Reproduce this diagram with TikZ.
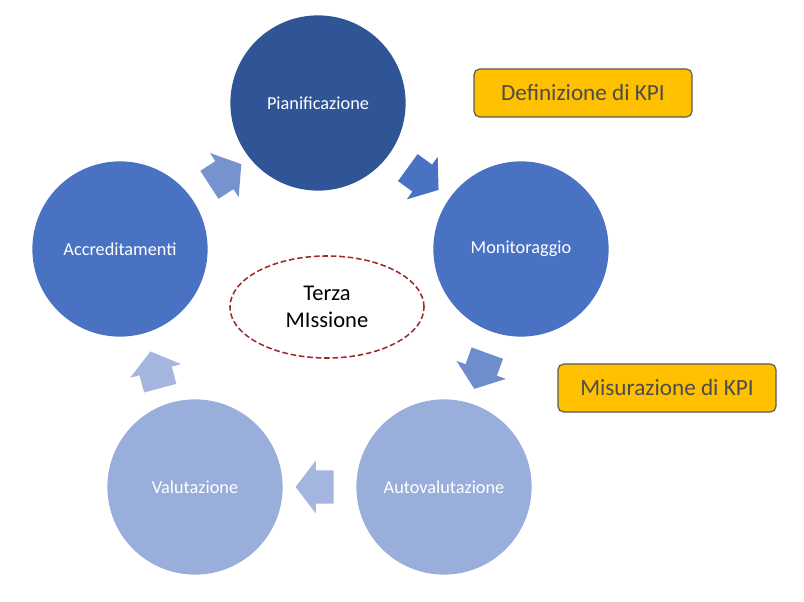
\documentclass[tikz,border=0pt]{standalone}
\usepackage{fontspec}
\setmainfont{Carlito}
\usetikzlibrary{shapes.geometric,shapes.arrows}

\definecolor{phaseDark}{HTML}{2F5597}
\definecolor{phaseMid}{HTML}{4A72C2}
\definecolor{phaseLight}{HTML}{9AAEDB}
\definecolor{kpiYellow}{HTML}{FFC000}
\definecolor{missionRed}{HTML}{9E2A2F}

\tikzset{
phase/.style={
circle,
minimum size=4.38cm,
inner sep=0pt,
text=white,
font=\fontsize{13}{15}\selectfont
},
cyclearrow/.style={
single arrow,
minimum height=0.95cm,
single arrow head extend=0.24cm,
single arrow tip angle=105,
inner xsep=0pt,
inner ysep=0.41cm
},
kpibox/.style={
draw=black!65,
thick,
rounded corners=4pt,
fill=kpiYellow,
text=black!70,
minimum width=5.45cm,
minimum height=1.2cm,
font=\fontsize{16.5}{18}\selectfont
}
}

\begin{document}
\begin{tikzpicture}[x=0.025cm,y=-0.025cm]

\useasboundingbox (0,0) rectangle (804,602);

%%%%%%%%%%%%%%%%%%%%%%%%%%%%%%%%%%%%%%%%%%%%%%%%%%%%%%%%%%%%%%
% PHASES
%%%%%%%%%%%%%%%%%%%%%%%%%%%%%%%%%%%%%%%%%%%%%%%%%%%%%%%%%%%%%%

\node[phase,fill=phaseDark](plan) at (318,103) {Pianificazione};

\node[phase,fill=phaseMid](monitor) at (521,249) {Monitoraggio};

\node[phase,fill=phaseLight](selfeval) at (444,487) {Autovalutazione};

\node[phase,fill=phaseLight](eval) at (195,487) {Valutazione};

\node[phase,fill=phaseMid](accred) at (120,249) {Accreditamenti};

%%%%%%%%%%%%%%%%%%%%%%%%%%%%%%%%%%%%%%%%%%%%%%%%%%%%%%%%%%%%%%
% CYCLE ARROWS
%%%%%%%%%%%%%%%%%%%%%%%%%%%%%%%%%%%%%%%%%%%%%%%%%%%%%%%%%%%%%%

\node[cyclearrow,fill=phaseMid,rotate=-36](arrowA) at (418,175) {};

\node[cyclearrow,fill=phaseMid!55!phaseLight,rotate=-110](arrowB) at (483,365) {};

\node[cyclearrow,fill=phaseLight!90!white,rotate=180](arrowC) at (321,487) {};

\node[cyclearrow,fill=phaseLight!90!white,rotate=105](arrowD) at (157,376) {};

\node[cyclearrow,fill=phaseMid!45!phaseLight,rotate=33](arrowE) at (220,178) {};

%%%%%%%%%%%%%%%%%%%%%%%%%%%%%%%%%%%%%%%%%%%%%%%%%%%%%%%%%%%%%%
% CENTRE
%%%%%%%%%%%%%%%%%%%%%%%%%%%%%%%%%%%%%%%%%%%%%%%%%%%%%%%%%%%%%%

\node[
ellipse,
draw=missionRed,
line width=1.1pt,
dash pattern=on 4pt off 2pt,
minimum width=4.85cm,
minimum height=2.55cm,
align=center,
font=\fontsize{16}{19.5}\selectfont
](mission)
at (327,307)
{Terza\\MIssione};

%%%%%%%%%%%%%%%%%%%%%%%%%%%%%%%%%%%%%%%%%%%%%%%%%%%%%%%%%%%%%%
% KPI LABELS
%%%%%%%%%%%%%%%%%%%%%%%%%%%%%%%%%%%%%%%%%%%%%%%%%%%%%%%%%%%%%%

\node[kpibox](kpidef) at (583,93) {Definizione di KPI};

\node[kpibox](kpimeas) at (667,388) {Misurazione di KPI};

\end{tikzpicture}
\end{document}
